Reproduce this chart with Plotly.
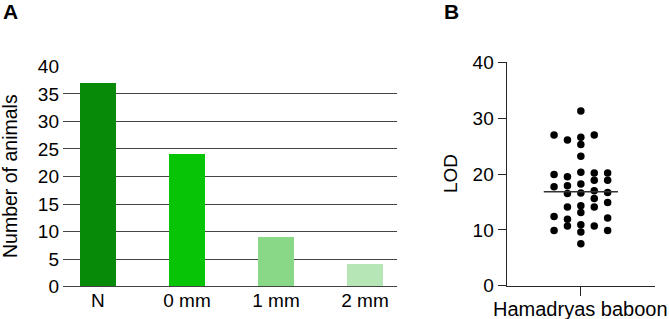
import plotly.graph_objects as go

# ---- Panel A data ----
categories = ["N", "0 mm", "1 mm", "2 mm"]
animal_counts = [37, 24, 9, 4]
bar_colors = ["#078A07", "#07C407", "#88D888", "#B6E6B6"]
a_ticks = [0, 5, 10, 15, 20, 25, 30, 35, 40]

# ---- Panel B data (LOD values, grouped by dot-plot column, left to right) ----
lod_col1 = [27.0, 19.9, 17.7, 12.4, 9.9]
lod_col2 = [26.1, 19.5, 17.9, 16.5, 14.1, 11.9, 10.7]
lod_col3 = [31.3, 26.6, 25.3, 23.2, 20.3, 18.2, 16.6, 14.3, 13.1, 10.9, 9.6, 7.5]
lod_col4 = [27.0, 20.2, 18.9, 17.0, 15.6, 14.1, 10.7]
lod_col5 = [20.2, 18.9, 16.7, 14.9, 12.1, 9.9]
lod_center_line = 16.8
b_group = "Hamadryas baboon"
b_ticks = [0, 10, 20, 30, 40]

W, H = 669, 319
FONT = "Liberation Sans, Arial, sans-serif"
INK = "#262626"

def px_x(p):
    return p / W

def px_y(p):
    return 1 - p / H

fig = go.Figure()

fig.add_trace(go.Bar(
    x=list(range(len(categories))), y=animal_counts,
    marker=dict(color=bar_colors, line=dict(width=0)),
    width=0.404, xaxis="x", yaxis="y", showlegend=False,
))

col_spacing = 0.1807
groups = [lod_col1, lod_col2, lod_col3, lod_col4, lod_col5]
xs, ys = [], []
for i, g in enumerate(groups):
    off = (i - 2) * col_spacing
    xs += [off] * len(g)
    ys += g
fig.add_trace(go.Scatter(
    x=xs, y=ys, mode="markers",
    marker=dict(color="black", size=7.5, line=dict(width=0)),
    xaxis="x2", yaxis="y2", showlegend=False,
))
half = 0.5
fig.add_trace(go.Scatter(
    x=[-half, half], y=[lod_center_line, lod_center_line], mode="lines",
    line=dict(color="#333333", width=1.5),
    xaxis="x2", yaxis="y2", showlegend=False,
))

fig.update_layout(
    width=W, height=H,
    margin=dict(l=0, r=0, t=0, b=0, autoexpand=False),
    paper_bgcolor="white", plot_bgcolor="white",
    font=dict(family=FONT, size=19, color="black"),
    bargap=0,
    xaxis=dict(
        domain=[px_x(63), px_x(397)],
        range=[-0.393, 3.36],
        tickvals=list(range(len(categories))), ticktext=categories,
        showgrid=False, zeroline=False, showline=False, ticks="",
        tickfont=dict(size=19), automargin=False,
    ),
    yaxis=dict(
        domain=[px_y(286.7), px_y(66.3)],
        range=[0, 40],
        tickvals=a_ticks,
        showgrid=True, gridcolor="#444444", gridwidth=1.2,
        zeroline=True, zerolinecolor="#444444", zerolinewidth=1.2,
        showline=False, ticks="", ticklabelstandoff=3,
        tickfont=dict(size=19), automargin=False,
    ),
    xaxis2=dict(
        domain=[px_x(506.7), px_x(655)],
        range=[-1, 1],
        tickvals=[0], ticktext=[""],
        showgrid=False, zeroline=False,
        showline=True, linecolor=INK, linewidth=1.3,
        ticks="outside", ticklen=9, tickwidth=1.3, tickcolor=INK,
        anchor="y2", automargin=False,
    ),
    yaxis2=dict(
        domain=[px_y(285.7), px_y(62.3)],
        range=[0, 40],
        tickvals=b_ticks,
        showgrid=False, zeroline=False,
        showline=True, linecolor=INK, linewidth=1.3,
        ticks="outside", ticklen=8, tickwidth=1.3, tickcolor=INK,
        tickfont=dict(size=19), anchor="x2", automargin=False,
    ),
    annotations=[
        dict(text="Number of animals", textangle=-90, xref="paper", yref="paper",
             x=px_x(10), y=px_y(176), xanchor="center", yanchor="middle",
             showarrow=False, font=dict(size=19.5)),
        dict(text="LOD", textangle=-90, xref="paper", yref="paper",
             x=px_x(450), y=px_y(174), xanchor="center", yanchor="middle",
             showarrow=False, font=dict(size=19)),
        dict(text=b_group, xref="paper", yref="paper",
             x=px_x(580), y=px_y(308.5), xanchor="center", yanchor="middle",
             showarrow=False, font=dict(size=20)),
        dict(text="<b>A</b>", xref="paper", yref="paper",
             x=px_x(10.5), y=px_y(12), xanchor="center", yanchor="middle",
             showarrow=False, font=dict(size=21)),
        dict(text="<b>B</b>", xref="paper", yref="paper",
             x=px_x(451.5), y=px_y(12), xanchor="center", yanchor="middle",
             showarrow=False, font=dict(size=21)),
    ],
)

fig.write_html(
    "out.html",
    config={"displayModeBar": False},
    post_script="document.body.style.margin='0';document.body.style.overflow='hidden';",
)
